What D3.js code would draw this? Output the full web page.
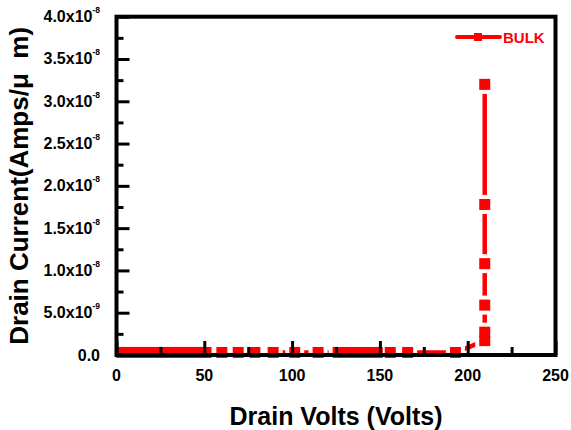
<!DOCTYPE html>
<html>
<head>
<meta charset="utf-8">
<script src="https://cdn.jsdelivr.net/npm/d3@7"></script>
<style>
  html, body { margin: 0; padding: 0; background: #fff; }
  svg { display: block; font-family: "Liberation Sans", Arial, sans-serif; }
</style>
</head>
<body>
<svg id="chart" width="571" height="430"></svg>
<script>
// ---- data ----
const seriesName = "BULK";
const drainVolts = [3, 6, 9, 12, 15, 18, 21, 24, 27, 30, 33, 36, 39, 42, 45, 48, 51,
  60, 69.3, 78.8, 89.2, 101.5, 114.8, 126.2, 131.4, 137, 142.7, 148.5, 155.9, 165.8,
  193, 209.7, 209.7, 209.7, 209.7, 209.7, 209.7];
const drainCurrent = [3e-10, 3e-10, 3e-10, 3e-10, 3e-10, 3e-10, 3e-10, 3e-10, 3e-10, 3e-10,
  3e-10, 3e-10, 3e-10, 3e-10, 3e-10, 3e-10, 3e-10,
  3e-10, 3e-10, 3e-10, 3e-10, 3e-10, 3e-10, 3e-10, 3e-10, 3e-10, 3e-10, 3e-10, 3e-10, 3e-10,
  3e-10, 1.7e-9, 2.7e-9, 5.9e-9, 1.08e-8, 1.78e-8, 3.2e-8];
const xTickValues = [0, 50, 100, 150, 200, 250];
const xMinorTicks = [25, 75, 125, 175, 225];
const xTickLabels = ["0", "50", "100", "150", "200", "250"];
const yTickValues = [0, 5e-9, 1e-8, 1.5e-8, 2e-8, 2.5e-8, 3e-8, 3.5e-8, 4e-8];
const yMinorTicks = [2.5e-9, 7.5e-9, 1.25e-8, 1.75e-8, 2.25e-8, 2.75e-8, 3.25e-8, 3.75e-8];
const yTickMantissa = ["0.0", "5.0", "1.0", "1.5", "2.0", "2.5", "3.0", "3.5", "4.0"];
const yTickExponent = ["", "-9", "-8", "-8", "-8", "-8", "-8", "-8", "-8"];
const xTitle = "Drain Volts (Volts)";
const yTitle = "Drain Current(Amps/\u03bc\u00a0 m)";

// ---- chart ----
const svg = d3.select("#chart");
const L = 116.5, R = 555.5, T = 16.7, B = 355;
const RED = "#ff0000";
const x = d3.scaleLinear().domain([0, 250]).range([L, R]);
const y = d3.scaleLinear().domain([0, 4e-8]).range([B, T]);

const pts = drainVolts.map((v, i) => ({ v, c: drainCurrent[i] }));

// line
svg.append("path")
  .datum(pts)
  .attr("fill", "none")
  .attr("stroke", RED)
  .attr("stroke-width", 4.5)
  .attr("d", d3.line().x(d => x(d.v)).y(d => y(d.c)));

// white halos around symbols (Origin-style gaps)
const H = 19, S = 11;
svg.append("g").selectAll("rect").data(pts).join("rect")
  .attr("x", d => x(d.v) - H / 2).attr("y", d => y(d.c) - H / 2)
  .attr("width", H).attr("height", H).attr("fill", "#fff");
svg.append("g").selectAll("rect").data(pts).join("rect")
  .attr("x", d => x(d.v) - S / 2).attr("y", d => y(d.c) - S / 2)
  .attr("width", S).attr("height", S).attr("fill", RED);

// ticks (inward)
function tickGroup(axis, transform) {
  const g = svg.append("g").attr("transform", transform).call(axis);
  g.select(".domain").remove();
  g.selectAll("line").attr("stroke", "#000").attr("stroke-width", 3);
  g.selectAll("text").remove();
}
tickGroup(d3.axisBottom(x).tickValues(xTickValues).tickSize(-14).tickFormat(""), `translate(0,${B})`);
tickGroup(d3.axisBottom(x).tickValues(xMinorTicks).tickSize(-8).tickFormat(""), `translate(0,${B})`);
tickGroup(d3.axisLeft(y).tickValues(yTickValues).tickSize(-13).tickFormat(""), `translate(${L},0)`);
tickGroup(d3.axisLeft(y).tickValues(yMinorTicks).tickSize(-7).tickFormat(""), `translate(${L},0)`);

// frame
svg.append("rect")
  .attr("x", L).attr("y", T).attr("width", R - L).attr("height", B - T)
  .attr("fill", "none").attr("stroke", "#000").attr("stroke-width", 4);

// x tick labels
svg.append("g").selectAll("text").data(xTickValues).join("text")
  .attr("x", d => x(d)).attr("y", 381)
  .attr("text-anchor", "middle")
  .attr("font-size", 16).attr("font-weight", "bold").attr("fill", "#000")
  .text((d, i) => xTickLabels[i]);

// y tick labels
const yl = svg.append("g").selectAll("text").data(yTickValues).join("text")
  .attr("x", 100).attr("y", d => y(d) + 5.5)
  .attr("text-anchor", "end")
  .attr("font-size", 16).attr("font-weight", "bold").attr("fill", "#000");
yl.each(function (d, i) {
  const t = d3.select(this);
  if (yTickExponent[i] === "") {
    t.text(yTickMantissa[i]);
  } else {
    t.append("tspan").text(yTickMantissa[i] + "x10");
    t.append("tspan").attr("dy", -9).attr("font-size", 8.5).text(yTickExponent[i]);
  }
});

// axis titles
svg.append("text")
  .attr("x", (L + R) / 2).attr("y", 425)
  .attr("text-anchor", "middle")
  .attr("font-size", 25).attr("font-weight", "bold").attr("fill", "#000")
  .text(xTitle);
svg.append("text")
  .attr("transform", `translate(28,${(T + B) / 2}) rotate(-90)`)
  .attr("text-anchor", "middle")
  .attr("font-size", 26).attr("font-weight", "bold").attr("fill", "#000")
  .text(yTitle);

// legend
const lg = svg.append("g");
lg.append("line").attr("x1", 457).attr("x2", 500).attr("y1", 37).attr("y2", 37)
  .attr("stroke", RED).attr("stroke-width", 4).attr("stroke-linecap", "round");
lg.append("rect").attr("x", 474).attr("y", 33).attr("width", 8).attr("height", 8).attr("fill", RED);
lg.append("text").attr("x", 503).attr("y", 42.5)
  .attr("font-size", 15).attr("font-weight", "bold").attr("fill", RED)
  .text(seriesName);
</script>
</body>
</html>
